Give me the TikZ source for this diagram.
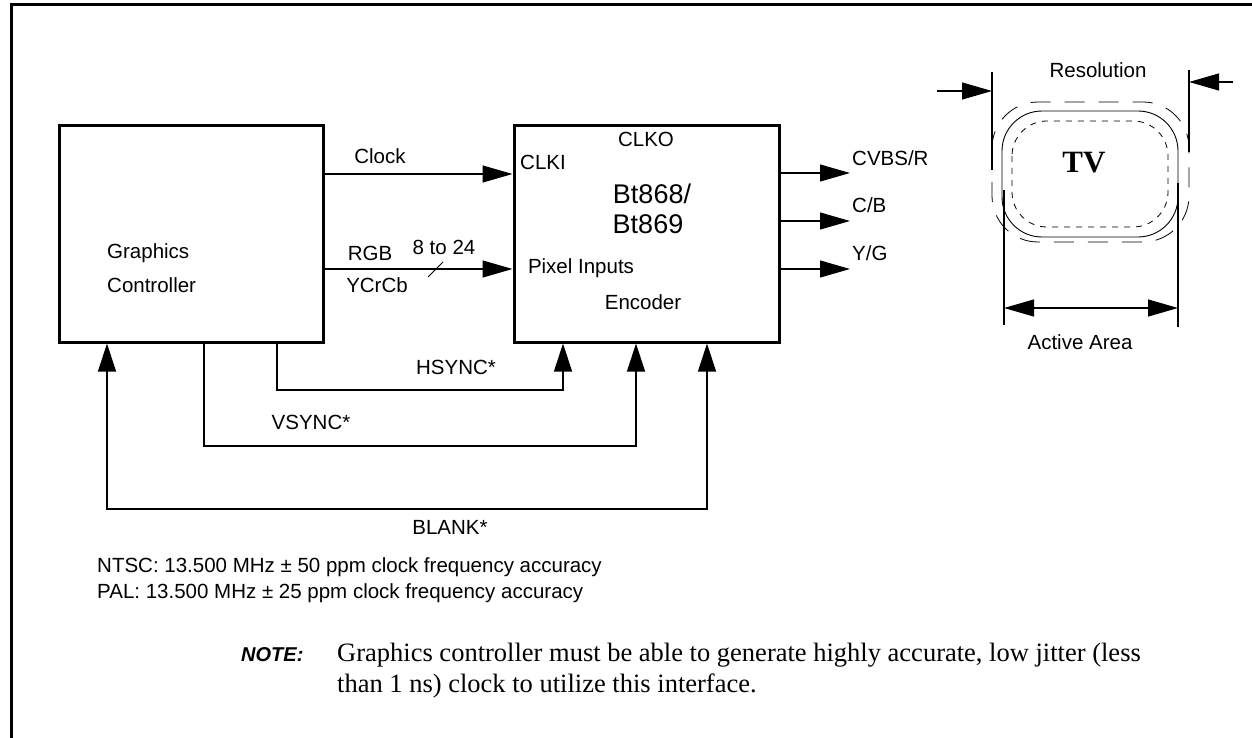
\documentclass[tikz,border=0pt]{standalone}
\usepackage{fontspec}
\setmainfont{Liberation Sans}
\newfontfamily\seriffam{Liberation Serif}
\usetikzlibrary{arrows.meta}
\begin{document}
\begin{tikzpicture}[x=1pt,y=-1pt,
  lbl/.style={inner sep=0pt, font=\fontsize{20.5}{24}\selectfont},
  big/.style={inner sep=0pt, font=\fontsize{27}{30}\selectfont},
  blk/.style={draw, line width=3pt, inner sep=0pt},
  wire/.style={line width=1.2pt},
  arr/.style={wire, -{Triangle[length=30pt,width=17pt]}},
  thinline/.style={line width=0.9pt},
  dim/.style={line width=1.1pt, -{Triangle[length=30pt,width=17pt]}},
  dimboth/.style={line width=1.1pt, {Triangle[length=30pt,width=17pt]}-{Triangle[length=30pt,width=17pt]}},
  notebody/.style={inner sep=0pt, anchor=west, font=\seriffam\fontsize{26.5}{30}\selectfont}
]
\useasboundingbox (0,0) rectangle (1252,738);
% frame
\coordinate (f1) at (11,738); \coordinate (f2) at (11,5); \coordinate (f3) at (1252,5);
\draw[line width=3pt] (f1) -- (f2) -- (f3);

% blocks
\node[blk, minimum width=264pt, minimum height=216pt] (gc) at (191,234) {};
\node[blk, minimum width=265pt, minimum height=216pt] (enc) at (646.5,234) {};

\node[lbl, anchor=west] (g1) at (107,253) {Graphics};
\node[lbl, anchor=west] (g2) at (107,285) {Controller};

\node[lbl] (clko) at (646,139) {CLKO};
\node[lbl] (clki) at (543,162) {CLKI};
\node[big] (bt1) at (652,194) {Bt868/};
\node[big] (bt2) at (648,224) {Bt869};
\node[lbl] (pix) at (581,268) {Pixel Inputs};
\node[lbl] (encl) at (643,302) {Encoder};

% clock and pixel bus
\coordinate (yclk) at (400,174);
\draw[arr] (gc.east |- yclk) -- (enc.west |- yclk);
\node[lbl] (clk) at (380,156) {Clock};
\coordinate (ypix) at (400,269);
\draw[arr] (gc.east |- ypix) -- (enc.west |- ypix);
\coordinate (s1) at (428,277); \coordinate (s2) at (443,262);
\draw[thinline] (s1) -- (s2);
\node[lbl] (rgb) at (370,253) {RGB};
\node[lbl] (w824) at (444,247) {8 to 24};
\node[lbl] (ycc) at (377,285) {YCrCb};

% outputs
\coordinate (o1) at (850,173);
\coordinate (o2) at (850,221);
\coordinate (o3) at (850,269);
\draw[arr] (enc.east |- o1) -- (o1);
\draw[arr] (enc.east |- o2) -- (o2);
\draw[arr] (enc.east |- o3) -- (o3);
\node[lbl, anchor=west] (cvbs) at (852,158) {CVBS/R};
\node[lbl, anchor=west] (cb) at (852,205) {C/B};
\node[lbl, anchor=west] (yg) at (852,253) {Y/G};

% sync lines
\coordinate (h1) at (277,390); \coordinate (h2) at (563,390);
\draw[wire, -{Triangle[length=28pt,width=18pt]}] (gc.south -| h1) -- (h1) -- (h2) -- (enc.south -| h2);
\node[lbl] (hs) at (456,367) {HSYNC*};
\coordinate (v1) at (204,446); \coordinate (v2) at (636,446);
\draw[wire, -{Triangle[length=28pt,width=18pt]}] (gc.south -| v1) -- (v1) -- (v2) -- (enc.south -| v2);
\node[lbl] (vs) at (311,422) {VSYNC*};
\coordinate (b1) at (107,509); \coordinate (b2) at (707,509);
\draw[wire, {Triangle[length=28pt,width=18pt]}-{Triangle[length=28pt,width=18pt]}] (gc.south -| b1) -- (b1) -- (b2) -- (enc.south -| b2);
\node[lbl] (bl) at (450,527) {BLANK*};

% notes
\node[lbl, anchor=west] (ntsc) at (97,567) {NTSC: 13.500 MHz ± 50 ppm clock frequency accuracy};
\node[lbl, anchor=west] (pal) at (97,593) {PAL: 13.500 MHz ± 25 ppm clock frequency accuracy};
\node[inner sep=0pt, anchor=west, font=\bfseries\itshape\fontsize{20}{24}\selectfont] (note) at (241,655) {NOTE:};
\node[notebody] (n1) at (337,655) {Graphics controller must be able to generate highly accurate, low jitter (less};
\node[notebody] (n2) at (337,686) {than 1 ns) clock to utilize this interface.};

% TV
\draw[line width=0.9pt, rounded corners=40pt] (1002,111) rectangle (1178,237);
\draw[line width=0.8pt, dash pattern=on 6pt off 6pt, rounded corners=35pt] (1012,121) rectangle (1168,227);
\draw[line width=0.8pt, dash pattern=on 20pt off 14pt, rounded corners=46pt] (992,102) rectangle (1189,242);
\node[inner sep=0pt, font=\seriffam\bfseries\fontsize{31}{36}\selectfont] (tv) at (1084,163) {TV};

\coordinate (rl1) at (992,72); \coordinate (rl2) at (992,170);
\coordinate (rr1) at (1189,70); \coordinate (rr2) at (1189,152);
\draw[line width=1.1pt] (rl1) -- (rl2);
\draw[line width=1.1pt] (rr1) -- (rr2);
\coordinate (ra1) at (937,91); \coordinate (ra2) at (1233,82);
\draw[dim] (ra1) -- (ra1 -| rl1);
\draw[dim] (ra2) -- (ra2 -| rr1);
\node[lbl] (res) at (1098,70) {Resolution};

\coordinate (al1) at (1004,190); \coordinate (al2) at (1004,325);
\coordinate (ar1) at (1178,183); \coordinate (ar2) at (1178,327);
\draw[line width=1.1pt] (al1) -- (al2);
\draw[line width=1.1pt] (ar1) -- (ar2);
\coordinate (am) at (1090,308);
\draw[dimboth] (am -| al1) -- (am -| ar1);
\node[lbl] (act) at (1080,342) {Active Area};
\end{tikzpicture}
\end{document}
